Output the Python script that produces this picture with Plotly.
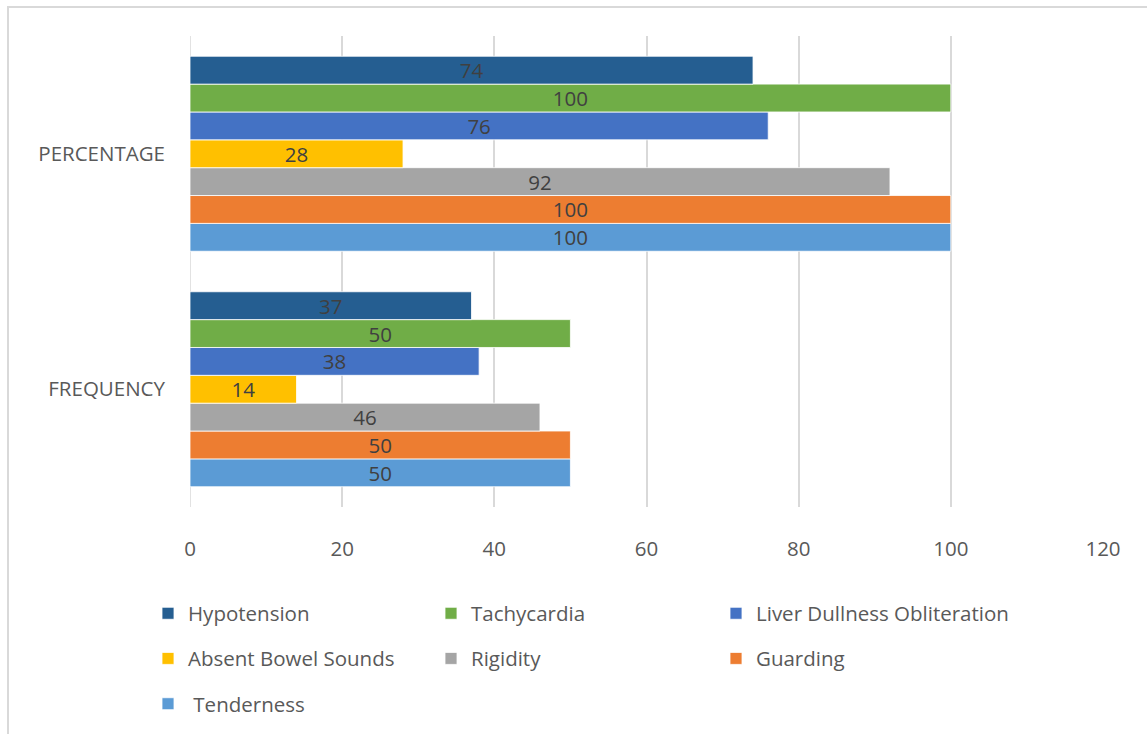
import plotly.graph_objects as go

categories = ["FREQUENCY", "PERCENTAGE"]
series_names = ["Hypotension", "Tachycardia", "Liver Dullness Obliteration",
                "Absent Bowel Sounds", "Rigidity", "Guarding", " Tenderness"]
series_colors = ["#255E91", "#70AD47", "#4472C4", "#FFC000", "#A5A5A5", "#ED7D31", "#5B9BD5"]
frequency = [37, 50, 38, 14, 46, 50, 50]
percentage = [74, 100, 76, 28, 92, 100, 100]
x_ticks = [0, 20, 40, 60, 80, 100, 120]

FONT = "Open Sans"
FS = 20.5
fig = go.Figure()

# rows 1-3 hold columns 1-2; third column entries get their own legends
legend_of = ["legend", "legend", "legend4", "legend2", "legend2", "legend5", "legend3"]
rank = [0, 1, 2, 0, 1, 2, 0]

# add in reverse so Hypotension appears at top of each group
for i in reversed(range(len(series_names))):
    fig.add_trace(go.Bar(
        y=categories,
        x=[frequency[i], percentage[i]],
        name=series_names[i],
        orientation="h",
        marker=dict(color=series_colors[i], line=dict(color="white", width=0.8)),
        text=[frequency[i], percentage[i]],
        textposition="inside",
        insidetextanchor="middle",
        textangle=0,
        constraintext="none",
        textfont=dict(color="#404040", size=FS, family=FONT),
        legend=legend_of[i],
        legendrank=rank[i],
    ))

LX = -0.046
leg_common = dict(
    orientation="h",
    font=dict(family=FONT, size=FS, color="#595959"),
    entrywidth=238, entrywidthmode="pixels",
    itemwidth=30,
    x=LX, xanchor="left", yanchor="middle",
    bgcolor="rgba(0,0,0,0)",
    traceorder="normal",
)
leg_col3 = dict(
    orientation="h",
    font=dict(family=FONT, size=FS, color="#595959"),
    itemwidth=30,
    x=LX + 568 / 913, xanchor="left", yanchor="middle",
    bgcolor="rgba(0,0,0,0)",
)

ROW_Y = [-0.2234, -0.319, -0.415]

fig.update_layout(
    width=1147, height=734,
    margin=dict(l=190, r=44, t=36, b=226),
    paper_bgcolor="white", plot_bgcolor="white",
    barmode="group", bargap=0.172, bargroupgap=0,
    font=dict(family=FONT, color="#595959", size=FS),
    legend=dict(leg_common, y=ROW_Y[0]),
    legend2=dict(leg_common, y=ROW_Y[1]),
    legend3=dict(leg_common, y=ROW_Y[2]),
    legend4=dict(leg_col3, y=ROW_Y[0]),
    legend5=dict(leg_col3, y=ROW_Y[1]),
    xaxis=dict(
        range=[0, 120], tickvals=x_ticks, showgrid=True,
        gridcolor="#D9D9D9", gridwidth=1.5, zeroline=False,
        showline=False, ticks="", ticklabelstandoff=27,
        tickfont=dict(size=FS, color="#595959", family=FONT),
    ),
    yaxis=dict(
        showgrid=False, showline=False, ticks="",
        ticklabelstandoff=24,
        tickfont=dict(size=FS, color="#595959", family=FONT),
    ),
    shapes=[dict(type="rect", xref="paper", yref="paper",
                 x0=(8 - 190) / 913, x1=(1160 - 190) / 913,
                 y0=(508 - 745) / 472, y1=(508 - 7) / 472,
                 line=dict(color="#D9D9D9", width=2), layer="below")],
)
fig.add_shape(type="line", xref="x", yref="paper", x0=0, x1=0, y0=0, y1=1,
              line=dict(color="#D9D9D9", width=1.5), layer="below")

fig.write_html("out.html")
